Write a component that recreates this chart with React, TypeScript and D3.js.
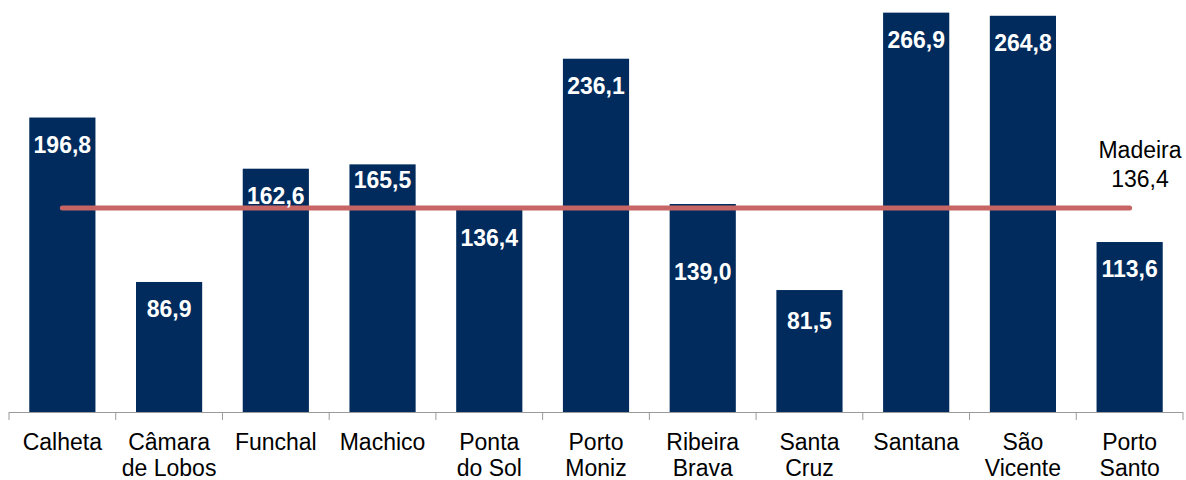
import React from "react";
import * as d3 from "d3";

const categories: string[][] = [
  ["Calheta"],
  ["Câmara", "de Lobos"],
  ["Funchal"],
  ["Machico"],
  ["Ponta", "do Sol"],
  ["Porto", "Moniz"],
  ["Ribeira", "Brava"],
  ["Santa", "Cruz"],
  ["Santana"],
  ["São", "Vicente"],
  ["Porto", "Santo"],
];
const values: number[] = [196.8, 86.9, 162.6, 165.5, 136.4, 236.1, 139.0, 81.5, 266.9, 264.8, 113.6];
const madeira = 136.4;
const madeiraLabel = ["Madeira", "136,4"];

// label vertical nudges (layout only), px
const labelNudge: number[] = [0, 0, 0, -11, 3, 0, 41, 4, 0, 0, 0];

const W = 1186;
const H = 480;
const left = 9;
const right = 1183;
const baseY = 412;
const BAR = "#002b5c";
const LINE = "#c76565";
const FONT = "'Liberation Sans', Arial, sans-serif";

const fmt = (v: number) => v.toFixed(1).replace(".", ",");

export default function App() {
  const idx = categories.map((_, i) => String(i));
  const x = d3.scaleBand<string>().domain(idx).range([left, right]).paddingInner(0.38).paddingOuter(0.19);
  const xb = d3.scaleBand<string>().domain(idx).range([left, right]);
  const y = d3.scaleLinear().domain([0, 270]).range([baseY, 8]);
  const cx = (i: number) => (xb(String(i)) as number) + xb.bandwidth() / 2;
  const ticks = d3.range(categories.length + 1).map((i) => left + i * xb.bandwidth());
  const lineGen = d3.line<number>().x((d) => d).y(() => y(madeira));

  return (
    <svg width={W} height={H} style={{ position: "absolute", left: 0, top: 0 }} fontFamily={FONT}>
      <rect width={W} height={H} fill="#fff" />
      {values.map((v, i) => (
        <rect key={i} x={x(String(i))} y={y(v)} width={x.bandwidth()} height={baseY - y(v)} fill={BAR} />
      ))}
      <line x1={left} x2={right} y1={baseY + 0.5} y2={baseY + 0.5} stroke="#9a9a9a" strokeWidth={1} />
      {ticks.map((t, i) => (
        <line key={i} x1={t} x2={t} y1={baseY} y2={baseY + 8} stroke="#9a9a9a" strokeWidth={1} />
      ))}
      <path d={lineGen([cx(0), cx(categories.length - 1)]) || ""} stroke={LINE} strokeWidth={5} strokeLinecap="round" fill="none" />
      {values.map((v, i) => (
        <text key={i} x={cx(i)} y={y(v) + 35 + labelNudge[i]} textAnchor="middle" fill="#fff" fontWeight="bold" fontSize={23}>
          {fmt(v)}
        </text>
      ))}
      {categories.map((lines, i) => (
        <text key={i} x={cx(i)} y={450} textAnchor="middle" fill="#000" fontSize={23}>
          {lines.map((l, j) => (
            <tspan key={j} x={cx(i)} dy={j === 0 ? 0 : 26}>
              {l}
            </tspan>
          ))}
        </text>
      ))}
      <text x={1140} y={158} textAnchor="middle" fill="#000" fontSize={23}>
        {madeiraLabel.map((l, j) => (
          <tspan key={j} x={1140} dy={j === 0 ? 0 : 29}>
            {l}
          </tspan>
        ))}
      </text>
    </svg>
  );
}
